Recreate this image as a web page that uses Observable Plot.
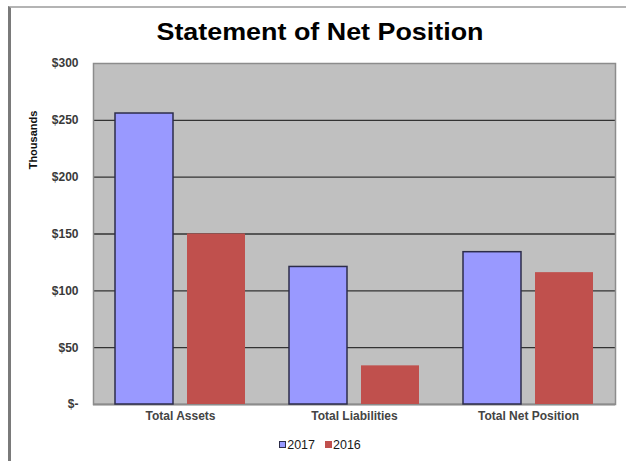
<!DOCTYPE html>
<html>
<head>
<meta charset="utf-8">
<script src="https://cdn.jsdelivr.net/npm/d3@7"></script>
<script src="https://cdn.jsdelivr.net/npm/@observablehq/plot@0.6"></script>
<style>
  html, body { margin: 0; padding: 0; background: #fff; width: 626px; height: 461px; overflow: hidden; }
  body { position: relative; font-family: Arial, "Liberation Sans", sans-serif; }
  #frame { position: absolute; left: 8px; top: 6px; width: 700px; height: 500px;
           border-top: 2px solid #b4b4b4; border-left: 3px solid #7a7a7a; }
  #title { position: absolute; left: 0; top: 17px; width: 640px; text-align: center;
           font-size: 24px; font-weight: bold; line-height: 30px; color: #000;
           transform: scaleX(1.12); transform-origin: 320px 0; }
  #chart { position: absolute; left: 0; top: 50px; }
  #ylabel { position: absolute; left: 33px; top: 140px; transform: translate(-50%, -50%) rotate(-90deg);
            font-size: 11px; font-weight: bold; color: #111; white-space: nowrap; }
  #legend { position: absolute; left: 0; top: 437px; width: 640px; text-align: center;
            font-size: 12.5px; color: #1a1a1a; line-height: 16px; }
  #legend span.item { display: inline-block; margin: 0 5px; }
  #legend span.sw { display: inline-block; width: 7px; height: 7px; margin-right: 1px; vertical-align: 1px; box-sizing: border-box; }
</style>
</head>
<body>
<div id="frame"></div>
<div id="title">Statement of Net Position</div>
<div id="chart"></div>
<div id="ylabel">Thousands</div>
<div id="legend"></div>
<script>
const categories = ["Total Assets", "Total Liabilities", "Total Net Position"];
const years = ["2017", "2016"];
const values2017 = [256, 121, 134];
const values2016 = [150, 34, 116];
const yTicks = [0, 50, 100, 150, 200, 250, 300];
const colors = {"2017": "#9999ff", "2016": "#c0504d"};

const data = [];
categories.forEach((c, i) => {
  data.push({category: c, year: "2017", value: values2017[i]});
  data.push({category: c, year: "2016", value: values2016[i]});
});

const legend = document.getElementById("legend");
years.forEach(y => {
  const item = document.createElement("span");
  item.className = "item";
  const sw = document.createElement("span");
  sw.className = "sw";
  sw.style.background = colors[y];
  if (y === "2017") sw.style.border = "1px solid #2d2d4a";
  item.appendChild(sw);
  item.appendChild(document.createTextNode(y));
  legend.appendChild(item);
});

const chart = Plot.plot({
  width: 626,
  height: 380,
  marginTop: 13,
  marginBottom: 26,
  marginLeft: 92,
  marginRight: 11,
  style: {fontFamily: "Arial, 'Liberation Sans', sans-serif", background: "transparent"},
  fx: {domain: categories, padding: 0, label: null, axis: null},
  x: {domain: years, paddingInner: 0.194, paddingOuter: 0.305, axis: null},
  y: {domain: [0, 300], axis: null},
  color: {domain: years, range: years.map(y => colors[y])},
  marks: [
    Plot.frame({fill: "#c0c0c0", facet: "super"}),
    Plot.gridY(yTicks.filter(t => t > 0 && t < 300), {stroke: "#333", strokeOpacity: 1, strokeWidth: 1.3}),
    Plot.ruleY([0], {stroke: "#444", strokeWidth: 1.5}),
    Plot.frame({stroke: "#8c8c8c", strokeWidth: 1.5, facet: "super"}),
    Plot.axisY(yTicks, {
      tickSize: 0, tickPadding: 15, fontSize: 12, fontWeight: "bold", fill: "#3a3a3a",
      tickFormat: d => d === 0 ? "$-" : "$" + d, label: null
    }),
    Plot.axisFx({anchor: "bottom", tickSize: 0, tickPadding: 7, fontSize: 12, fontWeight: "bold", fill: "#444", label: null}),
    Plot.barY(data.filter(d => d.year === "2016"), {fx: "category", x: "year", y: "value", fill: "year"}),
    Plot.barY(data.filter(d => d.year === "2017"), {fx: "category", x: "year", y: "value", fill: "year", stroke: "#2d2d4a", strokeWidth: 1.5})
  ]
});
document.getElementById("chart").appendChild(chart);
</script>
</body>
</html>
